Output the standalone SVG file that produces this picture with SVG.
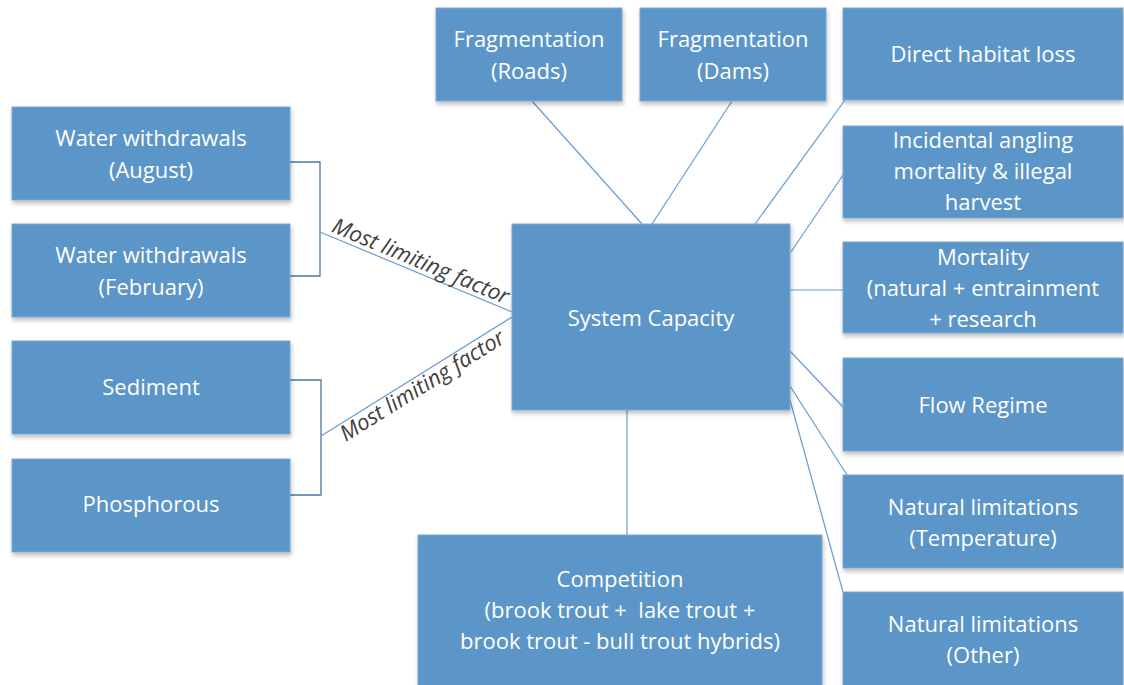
<svg xmlns="http://www.w3.org/2000/svg" width="1124" height="685" viewBox="0 0 1124 685">
<defs>
<filter id="sh" x="-10%" y="-10%" width="120%" height="130%">
<feDropShadow dx="1" dy="3" stdDeviation="2" flood-color="#000" flood-opacity="0.25"/>
</filter>
<style>
.box{fill:#5b95c8;stroke:#7ba7d3;stroke-width:1;filter:url(#sh)}
.t{font-family:"Open Sans","Noto Sans",sans-serif;font-size:22px;fill:#ffffff;text-anchor:middle}
.c{stroke:#6a9bcf;stroke-width:1.2;fill:none}
.b{stroke:#4a77a6;stroke-width:1.3;fill:none}
.lab{font-family:"Open Sans","Noto Sans",sans-serif;font-style:italic;font-size:22px;fill:#404040;text-anchor:middle}
</style>
</defs>
<rect width="1124" height="685" fill="#ffffff"/>
<g id="connectors">
<polyline class="b" points="290,162 320,162 320,276 290,276"/>
<polyline class="b" points="290,380 321,380 321,495 290,495"/>
<line class="c" x1="320" y1="232" x2="512" y2="312"/>
<line class="c" x1="321" y1="436" x2="512" y2="317"/>
<line class="c" x1="532" y1="101" x2="642" y2="224"/>
<line class="c" x1="732" y1="101" x2="652" y2="224"/>
<line class="c" x1="845" y1="100" x2="755" y2="224"/>
<line class="c" x1="843" y1="175" x2="791" y2="252"/>
<line class="c" x1="790" y1="290" x2="843" y2="290"/>
<line class="c" x1="790" y1="351" x2="843" y2="407"/>
<line class="c" x1="790" y1="386" x2="847" y2="475"/>
<line class="c" x1="790" y1="400" x2="843" y2="592"/>
<line class="c" x1="627" y1="410" x2="627" y2="535"/>
<text class="lab" transform="translate(418,268) rotate(22.6)">Most limiting factor</text>
<text class="lab" transform="translate(426,392) rotate(-31.9)">Most limiting factor</text>
</g>
<g id="system-capacity">
<rect class="box" x="512" y="224" width="278" height="186"/>
<text class="t" x="651" y="326">System Capacity</text>
</g>
<g id="water-aug">
<rect class="box" x="12" y="107" width="278" height="93"/>
<text class="t" x="151" y="146">Water withdrawals</text>
<text class="t" x="151" y="178">(August)</text>
</g>
<g id="water-feb">
<rect class="box" x="12" y="224" width="278" height="93"/>
<text class="t" x="151" y="263">Water withdrawals</text>
<text class="t" x="151" y="295">(February)</text>
</g>
<g id="sediment">
<rect class="box" x="12" y="341" width="278" height="93"/>
<text class="t" x="151" y="395">Sediment</text>
</g>
<g id="phosphorous">
<rect class="box" x="12" y="459" width="278" height="93"/>
<text class="t" x="151" y="512">Phosphorous</text>
</g>
<g id="frag-roads">
<rect class="box" x="436" y="8" width="186" height="93"/>
<text class="t" x="529" y="47">Fragmentation</text>
<text class="t" x="529" y="79">(Roads)</text>
</g>
<g id="frag-dams">
<rect class="box" x="640" y="8" width="186" height="93"/>
<text class="t" x="733" y="47">Fragmentation</text>
<text class="t" x="733" y="79">(Dams)</text>
</g>
<g id="habitat-loss">
<rect class="box" x="843" y="8" width="280" height="92"/>
<text class="t" x="983" y="62">Direct habitat loss</text>
</g>
<g id="angling">
<rect class="box" x="843" y="126" width="280" height="92"/>
<text class="t" x="983" y="148">Incidental angling</text>
<text class="t" x="983" y="179">mortality &amp; illegal</text>
<text class="t" x="983" y="210">harvest</text>
</g>
<g id="mortality">
<rect class="box" x="843" y="242" width="280" height="91"/>
<text class="t" x="983" y="265">Mortality</text>
<text class="t" x="983" y="296">(natural + entrainment</text>
<text class="t" x="983" y="327">+ research</text>
</g>
<g id="flow-regime">
<rect class="box" x="843" y="358" width="280" height="93"/>
<text class="t" x="983" y="413">Flow Regime</text>
</g>
<g id="nat-temp">
<rect class="box" x="843" y="475" width="280" height="93"/>
<text class="t" x="983" y="515">Natural limitations</text>
<text class="t" x="983" y="546">(Temperature)</text>
</g>
<g id="nat-other">
<rect class="box" x="843" y="592" width="280" height="100"/>
<text class="t" x="983" y="632">Natural limitations</text>
<text class="t" x="983" y="663">(Other)</text>
</g>
<g id="competition">
<rect class="box" x="418" y="535" width="404" height="160"/>
<text class="t" x="620" y="587">Competition</text>
<text class="t" x="620" y="618" xml:space="preserve">(brook trout +  lake trout +</text>
<text class="t" x="620" y="649">brook trout - bull trout hybrids)</text>
</g>
</svg>
